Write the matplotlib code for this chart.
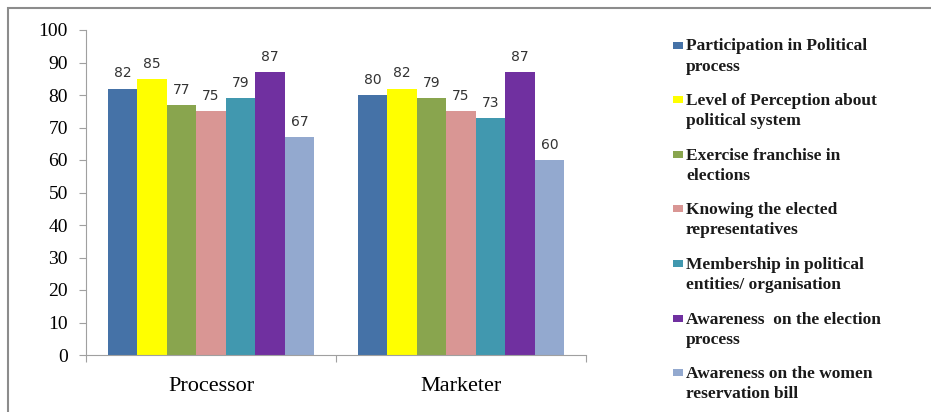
import matplotlib
matplotlib.use("Agg")
import matplotlib.pyplot as plt
from matplotlib.patches import Rectangle
import numpy as np

categories = ["Processor", "Marketer"]
series_names = [
    "Participation in Political\nprocess",
    "Level of Perception about\npolitical system",
    "Exercise franchise in\nelections",
    "Knowing the elected\nrepresentatives",
    "Membership in political\nentities/ organisation",
    "Awareness  on the election\nprocess",
    "Awareness on the women\nreservation bill",
]
processor = [82, 85, 77, 75, 79, 87, 67]
marketer = [80, 82, 79, 75, 73, 87, 60]
colors = ["#4572A7", "#FFFF00", "#89A54E", "#D99694", "#4198AF", "#7030A0", "#93A9CF"]
yticks = [0, 10, 20, 30, 40, 50, 60, 70, 80, 90, 100]

W, H = 931, 412
fig = plt.figure(figsize=(W / 100, H / 100), dpi=100)
fig.patch.set_facecolor("white")

# outer frame
fig.patches.append(Rectangle((8 / W, -0.05), 1.2, (H - 8) / H + 0.05, transform=fig.transFigure,
                             fill=False, edgecolor="#8c8c8c", linewidth=1.5))

ax = fig.add_axes([86 / W, (H - 355) / H, 500 / W, 325 / H])
values = np.array([processor, marketer])
n = len(series_names)
group_w = 0.825
bw = group_w / n
x = np.arange(len(categories)) + 0.5
for i in range(n):
    xs = x - group_w / 2 + bw * (i + 0.5)
    bars = ax.bar(xs, values[:, i], width=bw, color=colors[i], edgecolor="none")
    for b, v in zip(bars, values[:, i]):
        ax.text(b.get_x() + b.get_width() / 2, v + 2.5, f"{v}", ha="center", va="bottom",
                fontsize=10, color="#333333", family="DejaVu Sans")

ax.set_xlim(0, 2)
ax.set_ylim(0, 100)
ax.set_yticks(yticks)
ax.set_yticklabels([str(t) for t in yticks], family="Liberation Serif", fontsize=14)
ax.set_xticks([0, 1, 2])
ax.set_xticklabels([])
ax.set_xticks(x, minor=True)
ax.set_xticklabels(categories, minor=True, family="Liberation Serif", fontsize=16)
ax.tick_params(axis="x", which="minor", length=0, pad=16)
ax.tick_params(axis="x", which="major", length=5, color="#a0a0a0", direction="out")
ax.tick_params(axis="y", length=5, color="#a0a0a0", direction="out", pad=8)
for s in ["top", "right"]:
    ax.spines[s].set_visible(False)
for s in ["left", "bottom"]:
    ax.spines[s].set_color("#a0a0a0")

# legend
y0 = 45
step = 54.6
for i, (name, c) in enumerate(zip(series_names, colors)):
    yc = y0 + i * step
    fig.patches.append(Rectangle((673 / W, (H - yc - 3.5) / H), 10 / W, 7 / H,
                                 transform=fig.transFigure, facecolor=c, edgecolor="none"))
    fig.text(686 / W, (H - yc + 6.5) / H, name, family="Liberation Serif", fontsize=12.5,
             fontweight="bold", color="#1a1a1a", va="top", ha="left", linespacing=1.35)

fig.savefig("out.png", dpi=100)
